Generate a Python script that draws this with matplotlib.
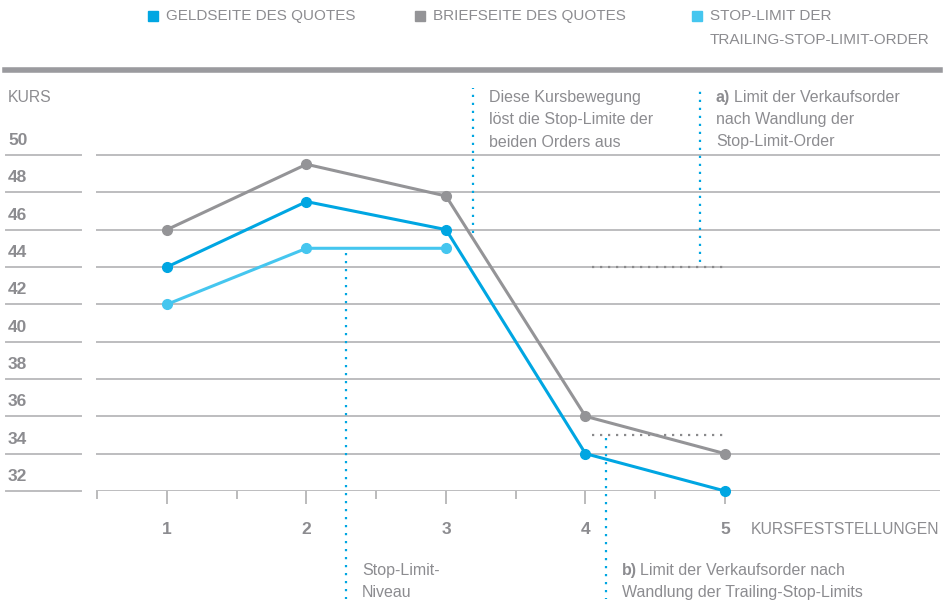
import matplotlib
matplotlib.use("Agg")
import matplotlib.pyplot as plt
import matplotlib.transforms as mtransforms
from matplotlib.patches import Rectangle
from matplotlib.lines import Line2D

W, H = 945, 611

# --- data ------------------------------------------------------------------
kursfeststellungen = [1, 2, 3, 4, 5]
geldseite = [44, 47.5, 46, 34, 32]
briefseite = [46, 49.5, 47.8, 36, 34]
stop_limit_x = [1, 2, 3]
stop_limit = [42, 45, 45]
y_ticks = [32, 34, 36, 38, 40, 42, 44, 46, 48, 50]
x_minor = [0.5, 1.5, 2.5, 3.5, 4.5]

BLUE = "#00a6e2"
GRAY = "#949497"
LIGHT = "#45c6ef"
TXT = "#8c8c90"
GRID = "#bdbdbf"

plt.rcParams["font.family"] = ["Liberation Sans Narrow", "Liberation Sans", "DejaVu Sans"]

fig = plt.figure(figsize=(W / 100, H / 100), dpi=100)


def fx(x):
    return x / W


def fy(y):
    return 1 - y / H


# axes: x=1 at 167px (139.5px/unit), y=32 at 491px (18.67px/unit)
ax = fig.add_axes([fx(96), fy(491), (940 - 96) / W, (491 - 88) / H])
ax.set_xlim(1 - (167 - 96) / 139.5, 1 + (940 - 167) / 139.5)
ax.set_ylim(32, 32 + (491 - 88) / 18.67)
for s in ax.spines.values():
    s.set_visible(False)

ax.set_yticks(y_ticks)
ax.tick_params(axis="y", length=0, labelleft=False)
ax.grid(axis="y", color=GRID, lw=1.4, zorder=0)
ax.set_axisbelow(True)

ax.set_xticks(kursfeststellungen)
ax.set_xticklabels([str(k) for k in kursfeststellungen], fontweight="bold",
                   color=TXT, fontsize=12.5)
ax.set_xticks(x_minor, minor=True)
ax.tick_params(axis="x", which="major", length=9.5, width=1.1, color="#a8a8aa", pad=13)
ax.tick_params(axis="x", which="minor", length=5.8, width=1.1, color="#a8a8aa")

# y labels + short lines on the left
blend = mtransforms.blended_transform_factory(fig.transFigure, ax.transData)
lab_tr = mtransforms.offset_copy(blend, fig=fig, y=14.5, units="dots")
for v in y_ticks:
    ax.add_line(Line2D([fx(6), fx(81)], [v, v], transform=blend, color=GRID,
                       lw=1.4, clip_on=False))
    ax.text(fx(8), v, str(v), transform=lab_tr, ha="left", va="center",
            fontsize=12.5, fontweight="bold", color=TXT)

# series
ax.plot(kursfeststellungen, briefseite, color=GRAY, lw=2.2, marker="o", ms=7,
        zorder=3, clip_on=False)
ax.plot(kursfeststellungen, geldseite, color=BLUE, lw=2.2, marker="o", ms=7,
        zorder=4, clip_on=False)
ax.plot(stop_limit_x, stop_limit, color=LIGHT, lw=2.2, marker="o", ms=7,
        zorder=3, clip_on=False)

# dotted helper lines
dot = (0, (1, 2.6))
ax.plot([3.19, 3.19], [45.8, 53.6], color=BLUE, lw=1.6, ls=dot, clip_on=False)
ax.plot([4.82, 4.82], [44.25, 53.6], color=BLUE, lw=1.6, ls=dot, clip_on=False)
ax.plot([4.05, 5.0], [44, 44], color="#8a8a8c", lw=1.6, ls=dot, zorder=2)
ax.plot([2.28, 2.28], [44.75, 26.2], color=BLUE, lw=1.6, ls=dot, clip_on=False)
ax.plot([4.05, 5.0], [35, 35], color="#8a8a8c", lw=1.6, ls=dot, zorder=2)
ax.plot([4.15, 4.15], [34.85, 26.2], color=BLUE, lw=1.6, ls=dot, clip_on=False)

# annotations
fs = 11.5
ls = 1.62
fig.text(fx(489), fy(90), "Diese Kursbewegung\nlöst die Stop-Limite der\nbeiden Orders aus",
         ha="left", va="top", fontsize=fs, color=TXT, linespacing=ls)
fig.text(fx(716), fy(90), "a)", ha="left", va="top", fontsize=fs, color=TXT,
         fontweight="bold")
fig.text(fx(734), fy(90), "Limit der Verkaufsorder", ha="left", va="top",
         fontsize=fs, color=TXT)
fig.text(fx(716), fy(112), "nach Wandlung der\nStop-Limit-Order", ha="left", va="top",
         fontsize=fs, color=TXT, linespacing=ls)

fig.text(fx(362), fy(563), "Stop-Limit-\nNiveau", ha="left", va="top", fontsize=fs,
         color=TXT, linespacing=ls)
fig.text(fx(622), fy(563), "b)", ha="left", va="top", fontsize=fs, color=TXT,
         fontweight="bold")
fig.text(fx(640), fy(563), "Limit der Verkaufsorder nach", ha="left", va="top",
         fontsize=fs, color=TXT)
fig.text(fx(622), fy(585), "Wandlung der Trailing-Stop-Limits", ha="left", va="top",
         fontsize=fs, color=TXT)

fig.text(fx(751), fy(529), "KURSFESTSTELLUNGEN", ha="left", va="center", fontsize=11.3,
         color=TXT)
fig.text(fx(8), fy(98), "KURS", ha="left", va="center", fontsize=11.3, color=TXT)

# legend + top bar
for sx, col, lab in [(148, BLUE, "GELDSEITE DES QUOTES"),
                     (415, GRAY, "BRIEFSEITE DES QUOTES"),
                     (692, LIGHT, "STOP-LIMIT DER")]:
    fig.patches.append(Rectangle((fx(sx), fy(21)), 10 / W, 10 / H, color=col,
                                 transform=fig.transFigure))
    fig.text(fx(sx + 18), fy(16), lab, ha="left", va="center", fontsize=11, color=TXT)
fig.text(fx(710), fy(40), "TRAILING-STOP-LIMIT-ORDER", ha="left", va="center",
         fontsize=11, color=TXT)
fig.add_artist(Line2D([fx(5), fx(940)], [fy(69.5), fy(69.5)], color="#9a9a9e", lw=4,
                      transform=fig.transFigure))

fig.savefig("out.png", dpi=100)
